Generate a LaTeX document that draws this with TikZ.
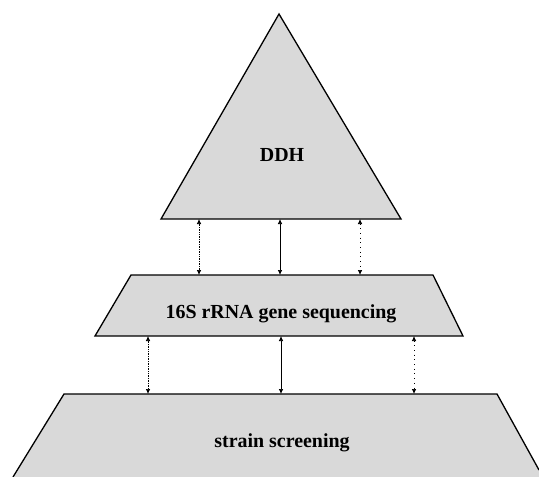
\documentclass[tikz,border=0pt]{standalone}
\usepackage{fontspec}
\setmainfont{Liberation Serif}
\usetikzlibrary{arrows.meta}
\begin{document}
\begin{tikzpicture}[x=1bp, y=-1bp,
    layer/.style={fill=black!15, draw=black, line width=1.3bp, line join=miter},
    link/.style={{Latex[length=5bp,width=4.5bp]}-{Latex[length=5bp,width=4.5bp]}, line width=0.7bp},
    label/.style={font=\fontsize{20}{23}\selectfont\bfseries}]
    \useasboundingbox (0,0) rectangle (539,477);
    \fill[black!15] (13,477) -- (64,394) -- (497,394) -- (539,470) -- (539,477) -- cycle;
    \draw[line width=1.3bp] (13,477) -- (64,394) -- (497,394) -- (539,470);
    \draw[layer] (131,275) -- (433,275) -- (463,336) -- (95,336) -- cycle;
    \draw[layer] (279,14) -- (401,219) -- (161,219) -- cycle;
    \node[label] (ddh) at (282,155) {DDH};
    \node[label] (seq) at (281,314) {16S rRNA gene sequencing};
    \node[label] (screen) at (282,443) {strain screening};
    \coordinate (t1) at (199,219);
    \coordinate (t2) at (280,219);
    \coordinate (t3) at (360,219);
    \coordinate (m1) at (199,275);
    \coordinate (m2) at (280,275);
    \coordinate (m3) at (360,275);
    \coordinate (n1) at (148,336);
    \coordinate (n2) at (281,336);
    \coordinate (n3) at (414,336);
    \coordinate (b1) at (148,394);
    \coordinate (b2) at (281,394);
    \coordinate (b3) at (414,394);
    \draw[link, densely dotted] (t1) -- (m1);
    \draw[link] (t2) -- (m2);
    \draw[link, loosely dotted] (t3) -- (m3);
    \draw[link, densely dotted] (n1) -- (b1);
    \draw[link] (n2) -- (b2);
    \draw[link, loosely dotted] (n3) -- (b3);
\end{tikzpicture}
\end{document}
